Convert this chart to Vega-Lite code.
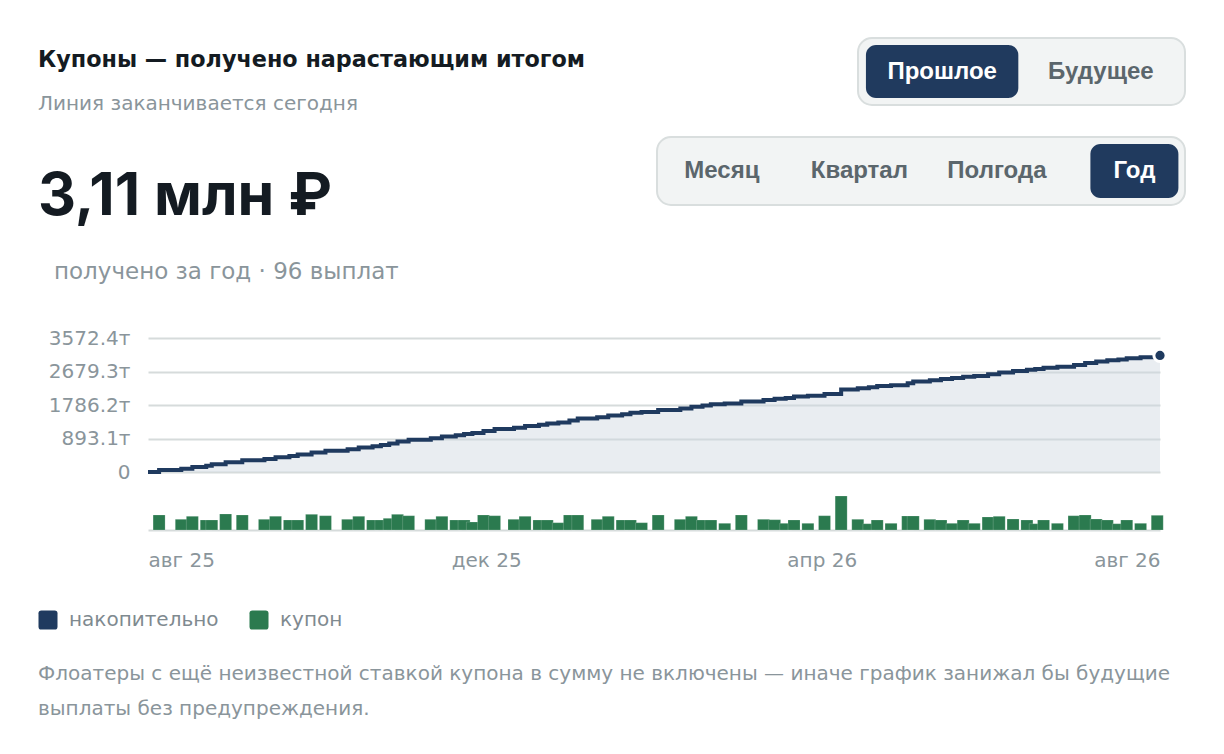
{
  "$schema": "https://vega.github.io/schema/vega-lite/v6.json",
  "background": "#ffffff",
  "padding": {"left": 38, "top": 37, "right": 0, "bottom": 0},
  "config": {
    "font": "DejaVu Sans",
    "view": {"stroke": null},
    "title": {"font": "DejaVu Sans", "subtitleFont": "DejaVu Sans"}
  },
  "datasets": {
    "pay": [
      {"d": "2025-08-01", "v": 0},
      {"d": "2025-08-05", "v": 51.5},
      {"d": "2025-08-13", "v": 36.8},
      {"d": "2025-08-17", "v": 47.1},
      {"d": "2025-08-22", "v": 34.4},
      {"d": "2025-08-24", "v": 34.4},
      {"d": "2025-08-29", "v": 55.0},
      {"d": "2025-09-04", "v": 51.5},
      {"d": "2025-09-12", "v": 36.8},
      {"d": "2025-09-16", "v": 47.1},
      {"d": "2025-09-21", "v": 34.4},
      {"d": "2025-09-24", "v": 34.4},
      {"d": "2025-09-29", "v": 53.9},
      {"d": "2025-10-04", "v": 49.1},
      {"d": "2025-10-12", "v": 36.8},
      {"d": "2025-10-16", "v": 47.1},
      {"d": "2025-10-21", "v": 34.4},
      {"d": "2025-10-24", "v": 34.4},
      {"d": "2025-10-27", "v": 40.2},
      {"d": "2025-10-30", "v": 53.9},
      {"d": "2025-11-03", "v": 49.1},
      {"d": "2025-11-11", "v": 36.8},
      {"d": "2025-11-15", "v": 47.1},
      {"d": "2025-11-20", "v": 34.4},
      {"d": "2025-11-23", "v": 34.4},
      {"d": "2025-11-26", "v": 27.5},
      {"d": "2025-11-30", "v": 51.5},
      {"d": "2025-12-04", "v": 49.1},
      {"d": "2025-12-11", "v": 36.8},
      {"d": "2025-12-15", "v": 47.1},
      {"d": "2025-12-20", "v": 34.4},
      {"d": "2025-12-23", "v": 34.4},
      {"d": "2025-12-27", "v": 25.1},
      {"d": "2025-12-31", "v": 51.5},
      {"d": "2026-01-03", "v": 51.5},
      {"d": "2026-01-10", "v": 36.8},
      {"d": "2026-01-14", "v": 47.1},
      {"d": "2026-01-19", "v": 34.4},
      {"d": "2026-01-22", "v": 34.4},
      {"d": "2026-01-26", "v": 25.1},
      {"d": "2026-02-01", "v": 51.5},
      {"d": "2026-02-09", "v": 36.8},
      {"d": "2026-02-13", "v": 47.1},
      {"d": "2026-02-17", "v": 34.4},
      {"d": "2026-02-20", "v": 34.4},
      {"d": "2026-02-25", "v": 23.0},
      {"d": "2026-03-03", "v": 51.5},
      {"d": "2026-03-11", "v": 36.8},
      {"d": "2026-03-15", "v": 35.4},
      {"d": "2026-03-19", "v": 23.0},
      {"d": "2026-03-22", "v": 34.4},
      {"d": "2026-03-27", "v": 23.0},
      {"d": "2026-04-02", "v": 49.1},
      {"d": "2026-04-08", "v": 116.8},
      {"d": "2026-04-14", "v": 36.8},
      {"d": "2026-04-18", "v": 21.6},
      {"d": "2026-04-21", "v": 34.4},
      {"d": "2026-04-26", "v": 23.0},
      {"d": "2026-05-02", "v": 48.1},
      {"d": "2026-05-04", "v": 48.1},
      {"d": "2026-05-10", "v": 36.8},
      {"d": "2026-05-14", "v": 34.4},
      {"d": "2026-05-18", "v": 23.0},
      {"d": "2026-05-22", "v": 34.4},
      {"d": "2026-05-26", "v": 23.0},
      {"d": "2026-05-31", "v": 44.7},
      {"d": "2026-06-04", "v": 47.1},
      {"d": "2026-06-09", "v": 37.8},
      {"d": "2026-06-14", "v": 34.4},
      {"d": "2026-06-17", "v": 21.6},
      {"d": "2026-06-20", "v": 34.4},
      {"d": "2026-06-25", "v": 23.0},
      {"d": "2026-07-01", "v": 49.1},
      {"d": "2026-07-05", "v": 51.5},
      {"d": "2026-07-09", "v": 37.8},
      {"d": "2026-07-13", "v": 34.4},
      {"d": "2026-07-17", "v": 21.6},
      {"d": "2026-07-20", "v": 34.4},
      {"d": "2026-07-25", "v": 23.0},
      {"d": "2026-07-31", "v": 50.5},
      {"d": "2026-08-01", "v": 0}
    ]
  },
  "title": {
    "text": ["Флоатеры с ещё неизвестной ставкой купона в сумму не включены — иначе график занижал бы будущие", "выплаты без предупреждения."],
    "orient": "bottom",
    "anchor": "start",
    "frame": "bounds",
    "fontSize": 20,
    "fontWeight": "normal",
    "color": "#8a959b",
    "lineHeight": 35,
    "offset": 34
  },
  "spacing": 0,
  "resolve": {"scale": {"color": "independent"}},
  "vconcat": [
    {
      "bounds": "flush",
      "spacing": 40,
      "hconcat": [
        {
          "width": 670,
          "height": 98,
          "data": {"values": []},
          "mark": "point",
          "title": {
            "text": "Купоны — получено нарастающим итогом",
            "subtitle": "Линия заканчивается сегодня",
            "anchor": "start",
            "frame": "group",
            "orient": "top",
            "dx": -110,
            "offset": -76,
            "fontSize": 22.3,
            "fontWeight": "bold",
            "color": "#141b22",
            "subtitleFontSize": 20,
            "subtitleColor": "#8a959b",
            "subtitlePadding": 23
          }
        },
        {
          "width": 327,
          "height": 67,
          "view": {"fill": "#f2f4f4", "stroke": "#d9dede", "strokeWidth": 2, "cornerRadius": 14},
          "data": {"values": [
            {"g": "режим", "opt": "Прошлое", "on": true},
            {"g": "режим", "opt": "Будущее", "on": false}
          ]},
          "encoding": {
            "x": {"field": "opt", "type": "nominal", "axis": null,
                  "scale": {"type": "band", "domain": ["Прошлое", "Будущее"], "paddingInner": 0.04, "paddingOuter": 0.05}},
            "y": {"field": "g", "type": "nominal", "axis": null,
                  "scale": {"type": "band", "paddingInner": 0, "paddingOuter": 0.13}}
          },
          "layer": [
            {"transform": [{"filter": "datum.on"}],
             "mark": {"type": "bar", "cornerRadius": 10, "color": "#203a5e"}},
            {"mark": {"type": "text", "font": "Liberation Sans", "fontSize": 24, "fontWeight": "bold", "baseline": "middle"},
             "encoding": {
               "text": {"field": "opt"},
               "color": {"condition": {"test": "datum.on", "value": "#ffffff"}, "value": "#5b666c"}
             }}
          ]
        }
      ]
    },
    {
      "bounds": "flush",
      "spacing": 40,
      "hconcat": [
        {
          "width": 469,
          "height": 124,
          "data": {"values": []},
          "mark": "point",
          "title": {
            "text": "3,11 млн ₽",
            "anchor": "start",
            "frame": "group",
            "orient": "top",
            "font": "Inter",
            "dx": -110,
            "offset": -90,
            "fontSize": 59,
            "fontWeight": "bold",
            "color": "#141b22"
          }
        },
        {
          "width": 528,
          "height": 68,
          "view": {"fill": "#f2f4f4", "stroke": "#d9dede", "strokeWidth": 2, "cornerRadius": 14},
          "data": {"values": [
            {"g": "период", "opt": "Месяц", "on": false},
            {"g": "период", "opt": "Квартал", "on": false},
            {"g": "период", "opt": "Полгода", "on": false},
            {"g": "период", "opt": "Год", "on": true}
          ]},
          "encoding": {
            "x": {"field": "opt", "type": "nominal", "axis": null,
                  "scale": {"type": "band", "domain": ["Месяц", "Квартал", "Полгода", "Год"], "paddingInner": 0.36, "paddingOuter": 0.1, "align": 0.76}},
            "y": {"field": "g", "type": "nominal", "axis": null,
                  "scale": {"type": "band", "paddingInner": 0, "paddingOuter": 0.13}}
          },
          "layer": [
            {"transform": [{"filter": "datum.on"}],
             "mark": {"type": "bar", "cornerRadius": 10, "color": "#203a5e"}},
            {"mark": {"type": "text", "font": "Liberation Sans", "fontSize": 24, "fontWeight": "bold", "baseline": "middle"},
             "encoding": {
               "text": {"field": "opt"},
               "color": {"condition": {"test": "datum.on", "value": "#ffffff"}, "value": "#5b666c"}
             }}
          ]
        }
      ]
    },
    {
      "bounds": "flush",
      "spacing": 24,
      "vconcat": [
        {
          "width": 1012,
          "height": 134,
          "data": {"name": "pay"},
          "transform": [
            {"window": [{"op": "sum", "field": "v", "as": "cum"}], "sort": [{"field": "d"}], "frame": [null, 0]}
          ],
          "title": {
            "text": "получено за год · 96 выплат",
            "anchor": "start",
            "frame": "group",
            "orient": "top",
            "dx": -94,
            "offset": 44,
            "fontSize": 23,
            "fontWeight": "normal",
            "color": "#8a959b"
          },
          "encoding": {
            "x": {"field": "d", "type": "temporal", "axis": null,
                  "scale": {"type": "utc", "padding": 0, "domain": [{"year": 2025, "month": 8, "date": 1, "utc": true}, {"year": 2026, "month": 8, "date": 1, "utc": true}]}},
            "y": {"field": "cum", "type": "quantitative",
                  "scale": {"domain": [0, 3572.4], "nice": false},
                  "axis": {"values": [0, 893.1, 1786.2, 2679.3, 3572.4],
                           "labelExpr": "datum.value == 0 ? '0' : format(datum.value, '.1f') + 'т'",
                           "title": null, "domain": false, "ticks": false,
                           "grid": true, "gridColor": "#d6dbdb", "gridWidth": 2,
                           "labelFontSize": 20, "labelColor": "#8a959b", "labelPadding": 18}}
          },
          "layer": [
            {"mark": {"type": "area", "interpolate": "step-after", "color": "#cfd8e1", "opacity": 0.45}},
            {"mark": {"type": "line", "interpolate": "step-after", "strokeWidth": 4},
             "encoding": {
               "color": {"datum": "накопительно",
                         "scale": {"domain": ["накопительно", "купон"], "range": ["#1f3a5f", "#2b7a4f"]},
                         "legend": {
                           "title": null, "orient": "none", "legendX": -110, "legendY": 272, "direction": "horizontal",
                           "padding": 0,
                           "symbolType": "M-1,-0.7 Q-1,-1 -0.7,-1 L0.7,-1 Q1,-1 1,-0.7 L1,0.7 Q1,1 0.7,1 L-0.7,1 Q-1,1 -1,0.7 Z",
                           "symbolSize": 361, "symbolStrokeWidth": 0,
                           "labelFontSize": 20, "labelColor": "#7f8a90", "labelOffset": 11, "columnPadding": 30,
                           "encode": {"symbols": {"update": {"fill": {"scale": "color", "field": "value"}, "opacity": {"value": 1}}}}
                         }}
             }},
            {"transform": [
               {"joinaggregate": [{"op": "max", "field": "cum", "as": "mx"}]},
               {"filter": "datum.cum == datum.mx && datum.v == 0"}
             ],
             "mark": {"type": "point", "filled": true, "size": 150, "color": "#1f3a5f", "stroke": "#ffffff", "strokeWidth": 3, "opacity": 1}}
          ]
        },
        {
          "width": 1012,
          "height": 34,
          "data": {"name": "pay"},
          "transform": [{"filter": "datum.v > 0"}],
          "mark": {"type": "bar", "size": 12, "stroke": "#ffffff", "strokeWidth": 0.6, "strokeOpacity": 0.3},
          "encoding": {
            "x": {"field": "d", "type": "temporal",
                  "scale": {"type": "utc", "padding": 0, "domain": [{"year": 2025, "month": 8, "date": 1, "utc": true}, {"year": 2026, "month": 8, "date": 1, "utc": true}]},
                  "axis": {"values": [{"year": 2025, "month": 8, "date": 1, "utc": true}, {"year": 2025, "month": 12, "date": 1, "utc": true}, {"year": 2026, "month": 4, "date": 1, "utc": true}, {"year": 2026, "month": 8, "date": 1, "utc": true}],
                           "labelExpr": "['янв','фев','мар','апр','май','июн','июл','авг','сен','окт','ноя','дек'][utcmonth(datum.value)] + ' ' + utcFormat(datum.value, '%y')",
                           "labelFlush": true, "ticks": false, "grid": false,
                           "domain": true, "domainColor": "#d6dbdb", "domainWidth": 2,
                           "labelFontSize": 20, "labelColor": "#8a959b", "labelPadding": 20, "title": null}},
            "y": {"field": "v", "type": "quantitative", "scale": {"domain": [0, 116.8], "nice": false}, "axis": null},
            "color": {"datum": "купон",
                      "scale": {"domain": ["накопительно", "купон"], "range": ["#1f3a5f", "#2b7a4f"]},
                      "legend": {
                        "title": null, "orient": "none", "legendX": -110, "legendY": 272, "direction": "horizontal",
                        "padding": 0,
                        "symbolType": "M-1,-0.7 Q-1,-1 -0.7,-1 L0.7,-1 Q1,-1 1,-0.7 L1,0.7 Q1,1 0.7,1 L-0.7,1 Q-1,1 -1,0.7 Z",
                        "symbolSize": 361, "symbolStrokeWidth": 0,
                        "labelFontSize": 20, "labelColor": "#7f8a90", "labelOffset": 11, "columnPadding": 30,
                        "encode": {"symbols": {"update": {"fill": {"scale": "color", "field": "value"}, "opacity": {"value": 1}}}}
                      }}
          }
        }
      ]
    }
  ]
}
